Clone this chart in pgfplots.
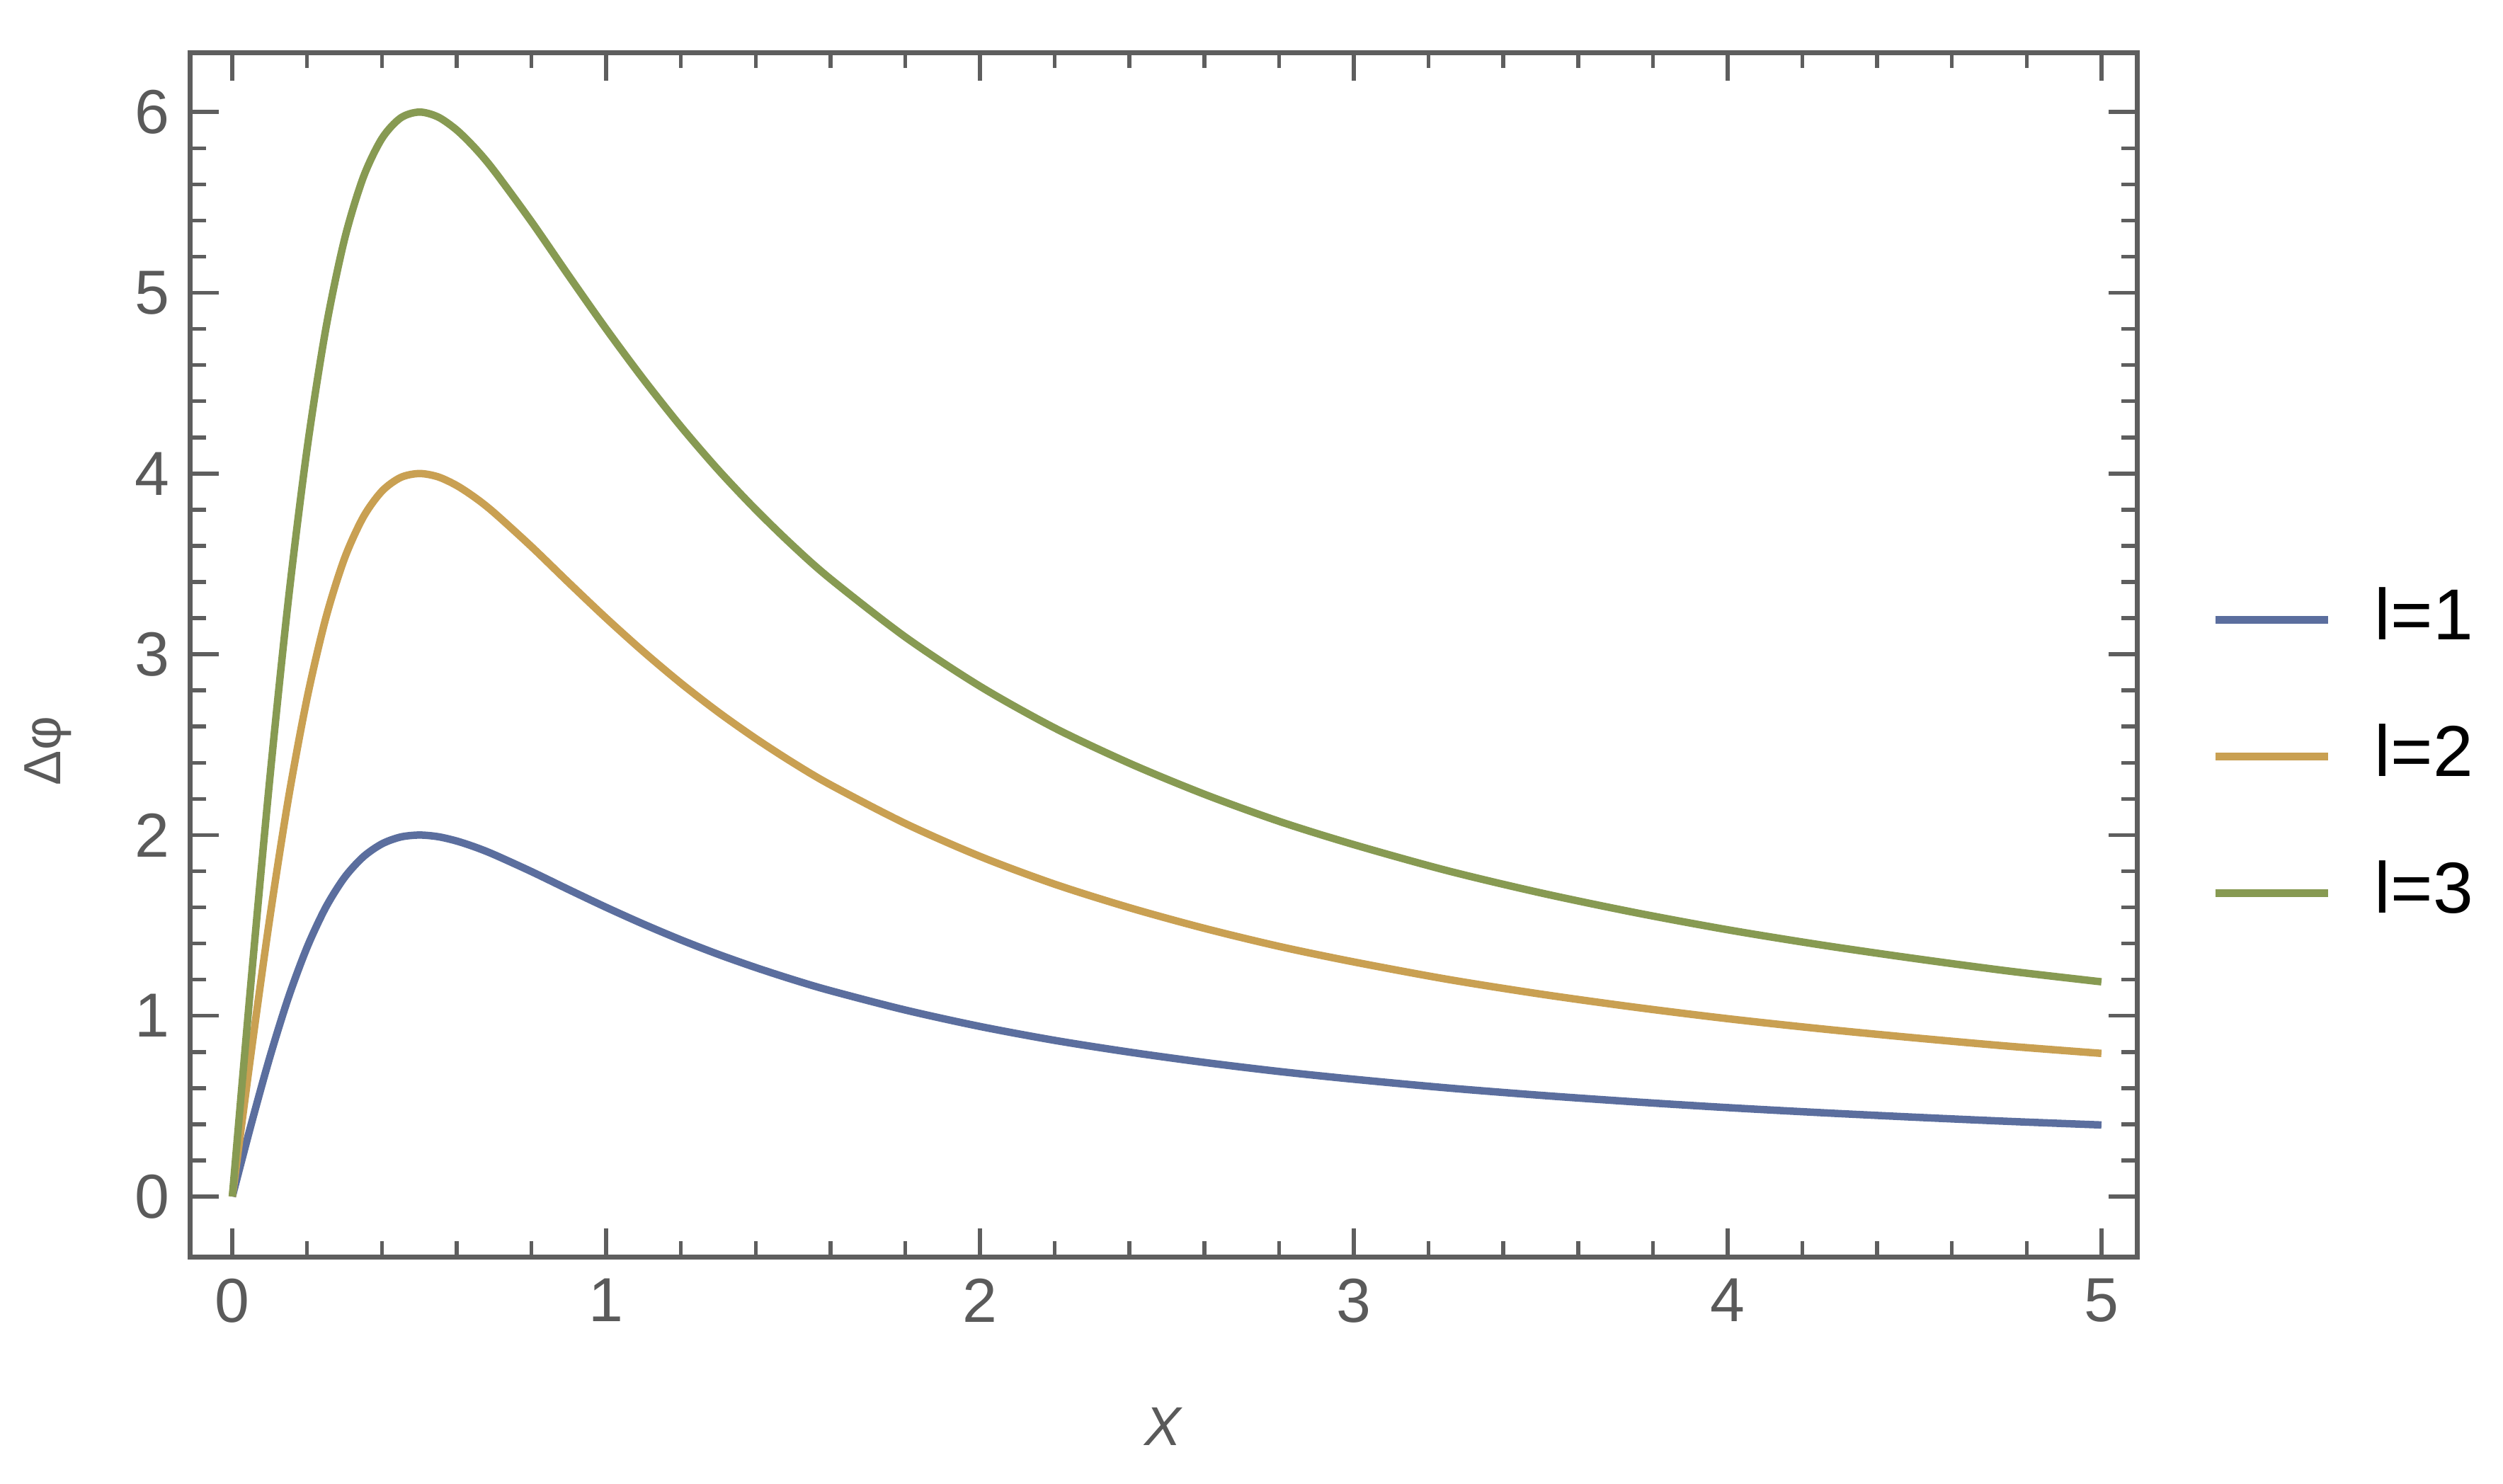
\documentclass[border=0pt]{standalone}
\usepackage{pgfplots}
\pgfplotsset{compat=1.18}
\usepackage{pgfplotstable}
\usepackage{fontspec}
\setmainfont{Liberation Sans}
\definecolor{framegray}{HTML}{5E5E5E}
\definecolor{labgray}{HTML}{5A5A5A}
\definecolor{cA}{HTML}{5B6E9E}
\definecolor{cB}{HTML}{C9A052}
\definecolor{cC}{HTML}{879A52}
\pgfplotstableread{
x a b c
0 0 0 0
0.05 0.396 0.792 1.188
0.1 0.769 1.538 2.307
0.15 1.101 2.202 3.303
0.2 1.379 2.758 4.137
0.25 1.6 3.2 4.8
0.3 1.765 3.530 5.295
0.35 1.879 3.758 5.637
0.4 1.951 3.902 5.853
0.45 1.989 3.978 5.967
0.5 2.0 4.0 6.0
0.55 1.991 3.982 5.973
0.6 1.967 3.934 5.901
0.65 1.933 3.866 5.799
0.7 1.892 3.784 5.676
0.8 1.798 3.596 5.394
0.9 1.698 3.396 5.094
1.0 1.6 3.2 4.8
1.1 1.507 3.014 4.521
1.2 1.420 2.840 4.260
1.3 1.340 2.680 4.020
1.4 1.267 2.534 3.801
1.5 1.2 2.4 3.6
1.6 1.139 2.278 3.417
1.8 1.032 2.064 3.096
2.0 0.941 1.882 2.823
2.2 0.864 1.728 2.592
2.4 0.799 1.598 2.397
2.6 0.742 1.484 2.226
2.8 0.692 1.384 2.076
3.0 0.649 1.298 1.947
3.25 0.601 1.202 1.803
3.5 0.56 1.12 1.68
3.75 0.524 1.048 1.572
4.0 0.492 0.984 1.476
4.25 0.464 0.928 1.392
4.5 0.439 0.878 1.317
4.75 0.416 0.832 1.248
5.0 0.396 0.792 1.188
}\datatable
\begin{document}
\begin{tikzpicture}
\useasboundingbox (-2.69cm,-3.20cm) rectangle (32.66cm,17.75cm);
\begin{axis}[
  at={(0,0)}, anchor=south west,
  scale only axis, width=27.49cm, height=17.01cm,
  xmin=-0.112, xmax=5.095, ymin=-0.333, ymax=6.33,
  xtick={0,1,2,3,4,5}, ytick={0,1,2,3,4,5,6},
  minor x tick num=4, minor y tick num=4,
  tick align=inside,
  major tick length=4mm, minor tick length=2.2mm,
  axis line style={framegray, line width=0.7mm},
  every tick/.style={framegray, line width=0.55mm},
  /pgf/number format/assume math mode=true,
  ticklabel style={font=\fontsize{25}{25}\selectfont, text=labgray, inner sep=0pt},
  xticklabel style={anchor=north, yshift=-3mm},
  yticklabel style={anchor=east, xshift=-2.9mm},
  xlabel={\textit{X}},
  xlabel style={at={(axis description cs:0.5,0)}, anchor=north, yshift=-21.3mm, inner sep=0pt, font=\fontsize{22}{22}\selectfont, text=labgray},
  ylabel={Δφ},
  ylabel style={at={([xshift=-20.1mm]axis description cs:0,0.42)}, anchor=center, rotate=0, inner sep=0pt, font=\fontsize{21}{21}\selectfont, text=labgray},
  legend cell align=left,
  legend style={at={(axis description cs:1,0.5603)}, anchor=north west, xshift=10.5mm,
    draw=none, fill=none, inner sep=0pt, row sep=11.2mm, column sep=0pt,
    font=\fontsize{29}{29}\selectfont,
    nodes={inner sep=0pt, text height=8.1mm, text depth=0pt, anchor=base west}},
  legend image code/.code={
    \draw[#1, line cap=butt] (0cm,2.8mm) -- (1.59cm,2.8mm);
    \path[draw=none, fill=none] (0cm,0cm) -- (2.25cm,0cm);
  },
]
\addplot[cA, line width=1.05mm, smooth] table[x=x, y=a] {\datatable};
\addlegendentry{l=1}
\addplot[cB, line width=1.05mm, smooth] table[x=x, y=b] {\datatable};
\addlegendentry{l=2}
\addplot[cC, line width=1.05mm, smooth] table[x=x, y=c] {\datatable};
\addlegendentry{l=3}
\end{axis}
\end{tikzpicture}
\end{document}
